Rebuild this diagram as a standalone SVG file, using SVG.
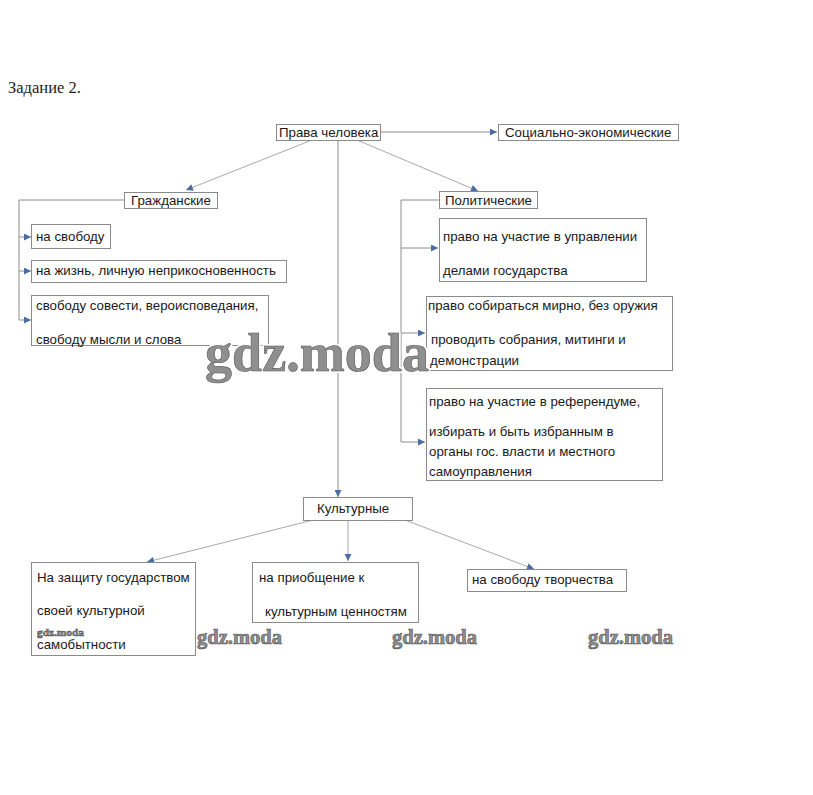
<svg xmlns="http://www.w3.org/2000/svg" width="813" height="795" viewBox="0 0 813 795">
<defs>
<marker id="ah" viewBox="0 0 10 10" refX="10" refY="5" markerWidth="8" markerHeight="7" markerUnits="userSpaceOnUse" orient="auto">
<path d="M0,0 L10,5 L0,10 Z" fill="#4a6ea3"/>
</marker>
</defs>
<style>
.box{fill:#fff;stroke:#8a8a8a;stroke-width:1}
.t{font-family:"Liberation Sans",Arial,sans-serif;font-size:13.3px;fill:#1a1a1a}
.ln{fill:none;stroke:#8c8c8c;stroke-width:1}
.lt{fill:none;stroke:#a8a8a8;stroke-width:1}
.wm{font-family:"Liberation Serif","Times New Roman",serif;font-weight:bold;fill:#8f8f8f;stroke:#555;stroke-width:0.6}
.halo{font-family:"Liberation Serif","Times New Roman",serif;font-weight:bold;fill:#fff;stroke:#fff;stroke-width:4;stroke-linejoin:round}
</style>
<rect width="813" height="795" fill="#fff"/>
<text x="8" y="93" font-family="Liberation Serif,Times New Roman,serif" font-size="16.5" fill="#222">Задание 2.</text>

<g id="connectors">
<line class="ln" x1="381" y1="132" x2="497" y2="132" marker-end="url(#ah)"/>
<line class="lt" x1="312" y1="140" x2="186" y2="190" marker-end="url(#ah)"/>
<line class="lt" x1="357" y1="140" x2="478" y2="191" marker-end="url(#ah)"/>
<line class="ln" x1="338" y1="140" x2="338" y2="497" marker-end="url(#ah)"/>
<polyline class="ln" points="124,200 19,200 19,320"/>
<line class="ln" x1="19" y1="237" x2="31" y2="237" marker-end="url(#ah)"/>
<line class="ln" x1="19" y1="271" x2="31" y2="271" marker-end="url(#ah)"/>
<line class="ln" x1="19" y1="320" x2="31" y2="320" marker-end="url(#ah)"/>
<polyline class="ln" points="439,200 401,200 401,442"/>
<line class="ln" x1="401" y1="248" x2="438" y2="248" marker-end="url(#ah)"/>
<line class="ln" x1="401" y1="333" x2="425" y2="333" marker-end="url(#ah)"/>
<line class="ln" x1="401" y1="442" x2="425" y2="442" marker-end="url(#ah)"/>
<line class="lt" x1="313" y1="520" x2="147" y2="562" marker-end="url(#ah)"/>
<line class="lt" x1="348" y1="520" x2="348" y2="561" marker-end="url(#ah)"/>
<line class="lt" x1="405" y1="520" x2="534" y2="569" marker-end="url(#ah)"/>
</g>

<g id="prava">
<rect class="box" x="276.5" y="124.5" width="104" height="16"/>
<text class="t" x="279" y="137">Права человека</text>
</g>
<g id="socek">
<rect class="box" x="498.5" y="124.5" width="180" height="16"/>
<text class="t" x="505" y="137">Социально-экономические</text>
</g>
<g id="grazhd">
<rect class="box" x="124.5" y="192.5" width="93" height="16"/>
<text class="t" x="131" y="205">Гражданские</text>
</g>
<g id="polit">
<rect class="box" x="439.5" y="191.5" width="98" height="17"/>
<text class="t" x="445" y="205">Политические</text>
</g>
<g id="g1">
<rect class="box" x="31.5" y="224.5" width="79" height="24"/>
<text class="t" x="36" y="241">на свободу</text>
</g>
<g id="g2">
<rect class="box" x="31.5" y="260.5" width="255" height="22"/>
<text class="t" x="36" y="275">на жизнь, личную неприкосновенность</text>
</g>
<g id="g3">
<rect class="box" x="31.5" y="295.5" width="237" height="50"/>
<text class="t" x="36" y="310">свободу совести, вероисповедания,</text>
<text class="t" x="36" y="344">свободу мысли и слова</text>
</g>
<g id="p1">
<rect class="box" x="439.5" y="218.5" width="207" height="63"/>
<text class="t" x="443" y="241">право на участие в управлении</text>
<text class="t" x="443" y="275">делами государства</text>
</g>
<g id="p2">
<rect class="box" x="426.5" y="296.5" width="246" height="74"/>
<text class="t" x="428" y="310">право собираться мирно, без оружия</text>
<text class="t" x="431" y="344">проводить собрания, митинги и</text>
<text class="t" x="430" y="365" font-size="12" fill="#444">демонстрации</text>
</g>
<g id="p3">
<rect class="box" x="426.5" y="388.5" width="236" height="92"/>
<text class="t" x="429" y="406">право на участие в референдуме,</text>
<text class="t" x="429" y="436">избирать и быть избранным в</text>
<text class="t" x="429" y="456">органы гос. власти и местного</text>
<text class="t" x="429" y="476">самоуправления</text>
</g>
<g id="kult">
<rect class="box" x="303.5" y="497.5" width="109" height="23"/>
<text class="t" x="317" y="513">Культурные</text>
</g>
<g id="k1">
<rect class="box" x="31.5" y="562.5" width="164" height="93"/>
<text class="t" x="37" y="582">На защиту государством</text>
<text class="t" x="37" y="615">своей культурной</text>
<text class="t" x="37" y="649">самобытности</text>
</g>
<g id="k2">
<rect class="box" x="252.5" y="562.5" width="166" height="60"/>
<text class="t" x="259" y="582">на приобщение к</text>
<text class="t" x="265" y="616">культурным ценностям</text>
</g>
<g id="k3">
<rect class="box" x="467.5" y="569.5" width="159" height="22"/>
<text class="t" x="472" y="584">на свободу творчества</text>
</g>

<g id="watermarks">
<text class="halo" x="205" y="371" font-size="54" textLength="224" lengthAdjust="spacingAndGlyphs">gdz.moda</text>
<text class="wm" x="205" y="371" font-size="54" textLength="224" lengthAdjust="spacingAndGlyphs">gdz.moda</text>
<text class="wm" x="197" y="644" font-size="20" textLength="85" lengthAdjust="spacingAndGlyphs">gdz.moda</text>
<text class="wm" x="392" y="644" font-size="20" textLength="85" lengthAdjust="spacingAndGlyphs">gdz.moda</text>
<text class="wm" x="588" y="644" font-size="20" textLength="85" lengthAdjust="spacingAndGlyphs">gdz.moda</text>
<text class="wm" x="37" y="636" font-size="11" stroke-width="0.2" textLength="47" lengthAdjust="spacingAndGlyphs">gdz.moda</text>
</g>
</svg>
